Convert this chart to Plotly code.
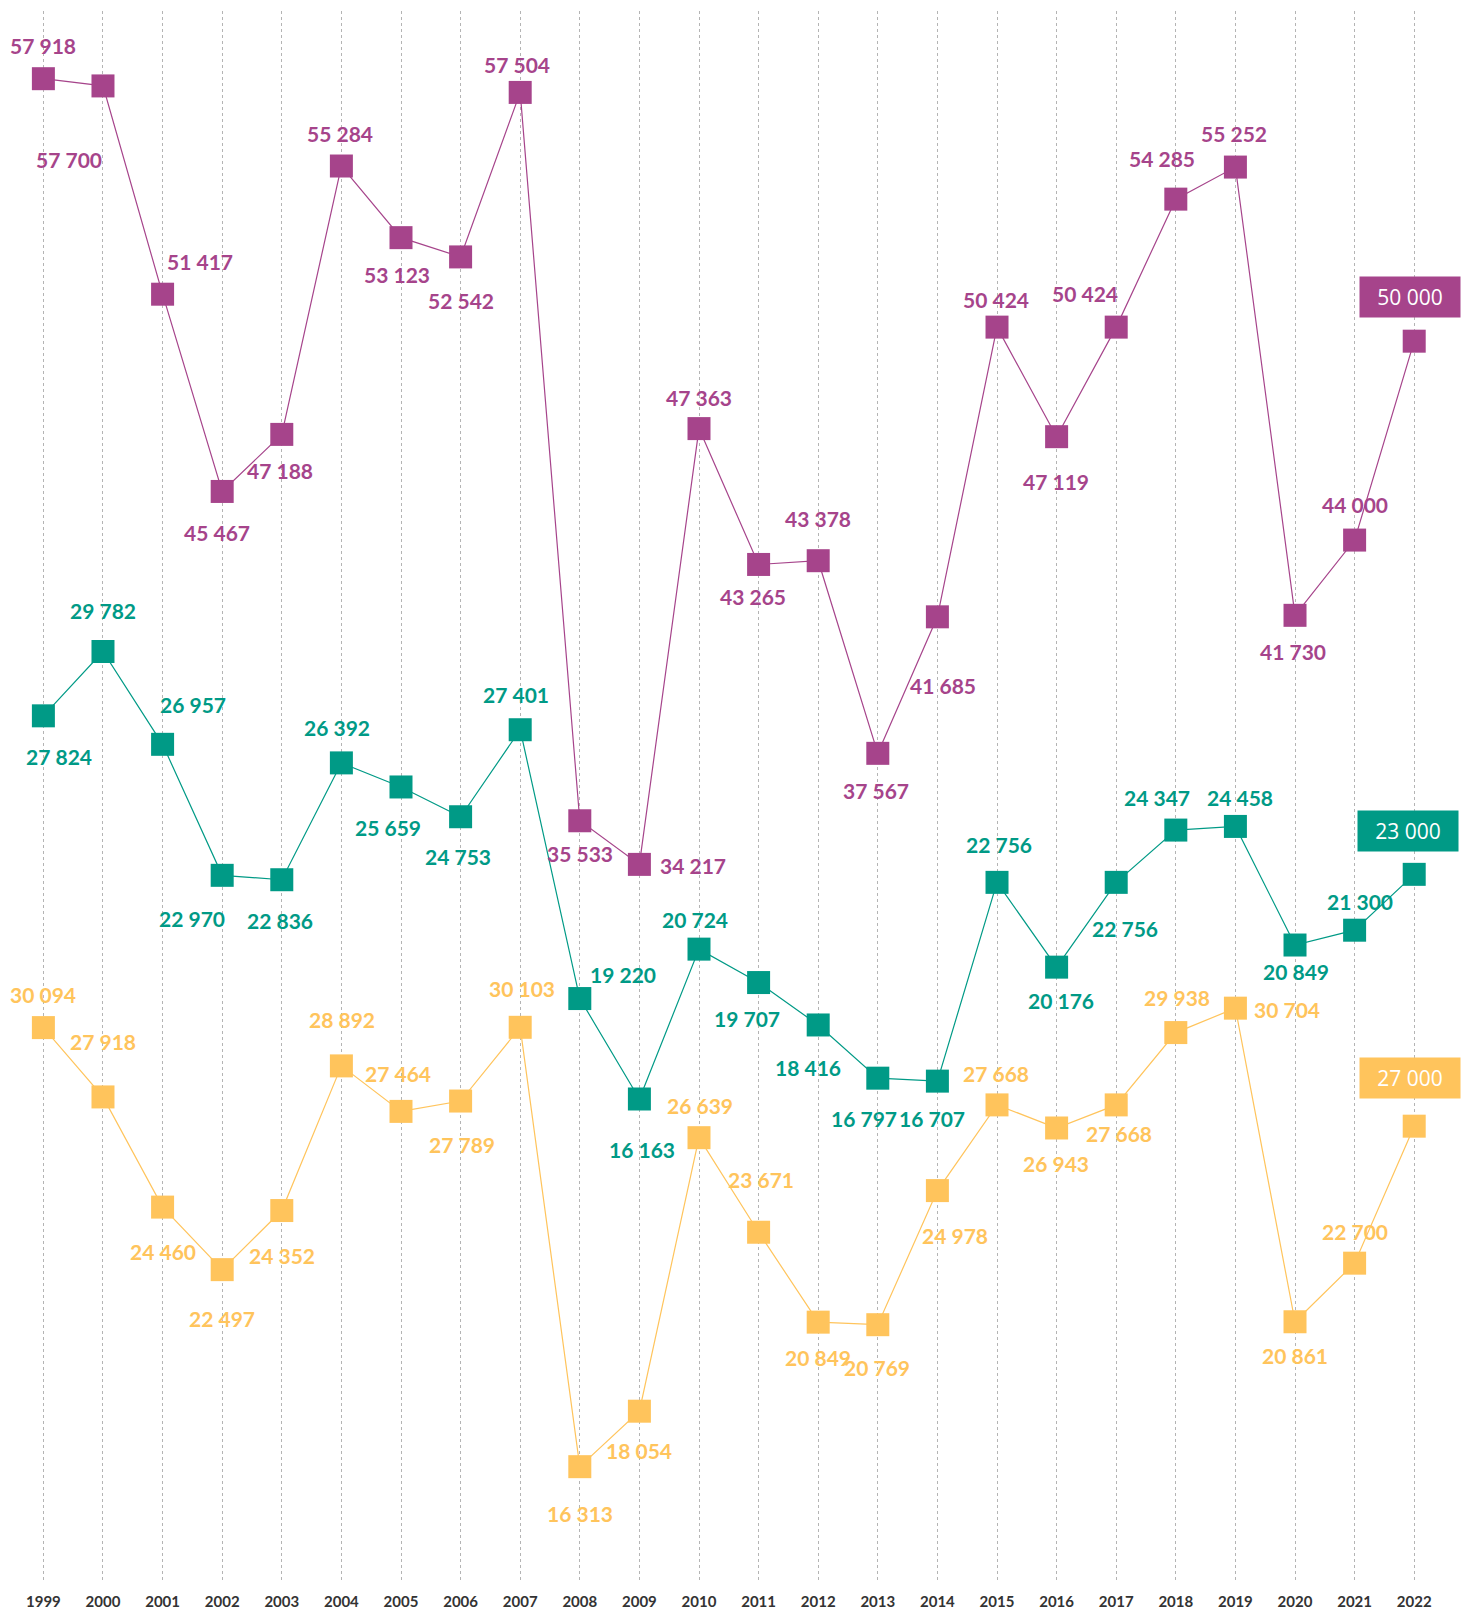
import plotly.graph_objects as go

years = list(range(1999, 2023))

purple_values = [57918, 57700, 51417, 45467, 47188, 55284, 53123, 52542, 57504, 35533, 34217, 47363,
                 43265, 43378, 37567, 41685, 50424, 47119, 50424, 54285, 55252, 41730, 44000, 50000]
teal_values = [27824, 29782, 26957, 22970, 22836, 26392, 25659, 24753, 27401, 19220, 16163, 20724,
               19707, 18416, 16797, 16707, 22756, 20176, 22756, 24347, 24458, 20849, 21300, 23000]
yellow_values = [30094, 27918, 24460, 22497, 24352, 28892, 27464, 27789, 30103, 16313, 18054, 26639,
                 23671, 20849, 20769, 24978, 27668, 26943, 27668, 29938, 30704, 20861, 22700, 27000]

# label offsets (dx, dy) in screen px relative to marker (styling only)
purple_off = [(0, -33), (-34, 74), (37, -33), (-5, 41), (-2, 36), (-1, -33), (-4, 37), (0, 44),
              (-3, -28), (0, 33), (54, 1), (0, -31), (-6, 32), (0, -42), (-2, 37), (6, 69),
              (-1, -28), (-1, 45), (-31, -34), (-14, -41), (-1, -34), (-2, 36), (0, -36), (-4, -44)]
teal_off = [(16, 41), (0, -41), (30, -40), (-30, 43), (-2, 41), (-4, -35), (-13, 41), (-3, 40),
            (-4, -35), (43, -24), (3, 50), (-4, -30), (-12, 36), (-10, 43), (-14, 40), (-5, 37),
            (2, -38), (4, 33), (9, 46), (-19, -33), (5, -29), (1, 26), (5, -29), (-6, -43)]
yellow_off = [(0, -33), (0, -55), (0, 44), (0, 49), (0, 45), (1, -46), (-3, -38), (1, 43),
              (2, -39), (0, 47), (0, 39), (1, -32), (2, -53), (0, 35), (-1, 43), (18, 45),
              (-1, -31), (-1, 36), (3, 29), (1, -35), (52, 1), (0, 34), (0, -32), (-4, -48)]

series = [
    ("y", purple_values, purple_off, "#A6448B", [12570, 59960]),
    ("y2", teal_values, teal_off, "#009A86", [1464, 49274]),
    ("y3", yellow_values, yellow_off, "#FFC45C", [12693, 62002]),
]

fig = go.Figure()
annotations = []


def fmt(v):
    return f"{v:,}".replace(",", " ")


for yref, vals, offs, color, rng in series:
    fig.add_trace(go.Scatter(
        x=years, y=vals, yaxis=yref, mode="lines+markers",
        line=dict(color=color, width=1.2),
        marker=dict(symbol="square", size=23, color=color),
        hoverinfo="skip", showlegend=False, cliponaxis=False,
    ))
    n = len(years)
    for i, (yr, v, (dx, dy)) in enumerate(zip(years, vals, offs)):
        if i == n - 1:
            annotations.append(dict(
                x=yr, y=v, xref="x", yref=yref, text=fmt(v), showarrow=False,
                xshift=dx, yshift=-dy, bgcolor=color, width=100, height=40, borderpad=0,
                font=dict(family="Open Sans, Roboto, sans-serif", size=21, color="white"),
            ))
        else:
            annotations.append(dict(
                x=yr, y=v, xref="x", yref=yref, text=fmt(v), showarrow=False,
                xshift=dx, yshift=-dy,
                font=dict(family="Lato, sans-serif", size=21, color=color, weight=700),
            ))

axis_hidden = dict(visible=False, showgrid=False, zeroline=False, fixedrange=True)

fig.update_layout(
    width=1461, height=1609,
    margin=dict(l=0, r=0, t=11, b=27),
    paper_bgcolor="white", plot_bgcolor="white",
    xaxis=dict(
        range=[1998.272, 2022.785], tickmode="array", tickvals=years,
        ticktext=[str(y) for y in years],
        showgrid=True, griddash="dot", gridcolor="#b4b4b4", gridwidth=1,
        zeroline=False, showline=False, ticks="", ticklabelstandoff=9, fixedrange=True,
        tickfont=dict(family="Lato, sans-serif", size=15, color="#333333", weight=700),
    ),
    yaxis=dict(range=series[0][4], **axis_hidden),
    yaxis2=dict(range=series[1][4], overlaying="y", **axis_hidden),
    yaxis3=dict(range=series[2][4], overlaying="y", **axis_hidden),
    annotations=annotations,
)

fig.write_html("out.html", config={"displayModeBar": False},
               post_script="document.body.style.margin='0';document.body.style.overflow='hidden';")
